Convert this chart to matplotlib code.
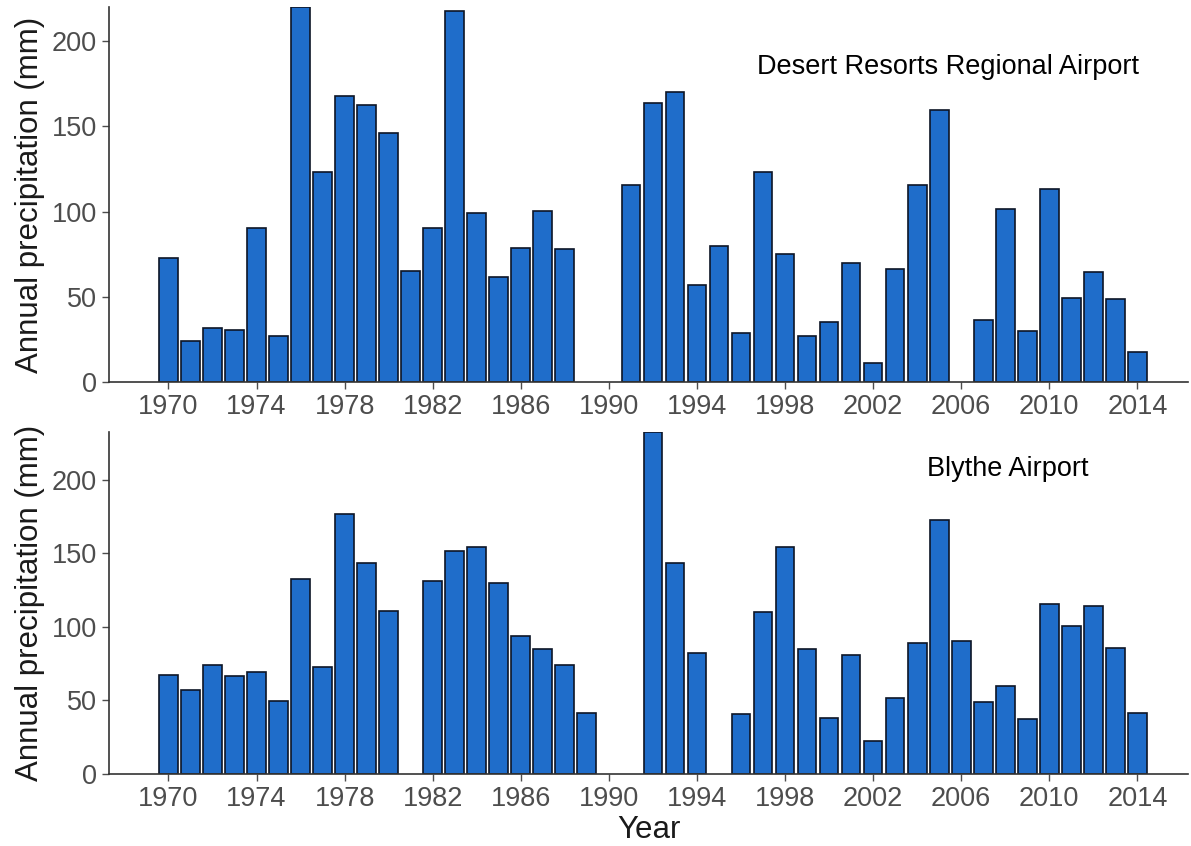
import numpy as np
import matplotlib
matplotlib.use('Agg')
import matplotlib.pyplot as plt

plt.rcParams['font.family'] = ['Liberation Sans', 'DejaVu Sans']

# Annual precipitation (mm), None = no data for that year
years = list(range(1970, 2015))
desert_resorts = [72.5, 24, 31.7, 30.3, 90.5, 27, 220, 123, 167.5, 162.6,
                  146.2, 64.9, 90.5, 217.8, 98.9, 61.4, 78.6, 100.5, 78.2, None,
                  None, 115.3, 163.6, 170.4, 56.9, 79.5, 28.5, 123.2, 74.8, 27.2,
                  35.4, 69.6, 11.1, 66.3, 115.3, 159.7, None, 36.1, 101.2, 30.1,
                  113.5, 49.3, 64.7, 48.9, 17.6]
blythe = [67.6, 57.0, 74.4, 66.3, 69.0, 49.3, 132.8, 72.4, 176.7, 143.2,
          110.9, None, 131.4, 151.6, 154.1, 129.6, 93.9, 85.1, 74.4, 41.6,
          None, None, 232.4, 143.2, 82.4, None, 40.7, 110.2, 154.5, 84.8,
          38.2, 81.0, 22.2, 51.4, 88.9, 172.6, 90.3, 49.1, 59.7, 37.3,
          115.4, 100.9, 114.0, 85.7, 41.2]
station_names = ['Desert Resorts Regional Airport', 'Blythe Airport']
xticks = list(range(1970, 2015, 4))
yticks = [0, 50, 100, 150, 200]

fig = plt.figure(figsize=(11.91, 8.46), dpi=100)
ax_top = fig.add_axes([0.0915, 0.5485, 0.906, 0.4432])
ax_bot = fig.add_axes([0.0915, 0.0851, 0.906, 0.4043])

panels = [(ax_top, desert_resorts, station_names[0], (2005.4, 185)),
          (ax_bot, blythe, station_names[1], (2008.1, 207))]

for ax, vals, name, (tx, ty) in panels:
    x = [yr for yr, v in zip(years, vals) if v is not None]
    h = [v for v in vals if v is not None]
    ax.bar(x, h, width=0.85, color='#1f6dca', edgecolor='#0d1526', linewidth=1.2)
    ax.set_xlim(1967.3, 2016.3)
    ax.set_ylim(0, max(h))
    ax.set_xticks(xticks)
    ax.set_yticks(yticks)
    ax.tick_params(axis='both', labelsize=19.5, colors='#4d4d4d', length=5, width=1)
    ax.spines['top'].set_visible(False)
    ax.spines['right'].set_visible(False)
    for s in ['left', 'bottom']:
        ax.spines[s].set_color('#333333')
        ax.spines[s].set_linewidth(1.2)
    ax.set_ylabel('Annual precipitation (mm)', fontsize=22.5, color='#1a1a1a', labelpad=5)
    ax.text(tx, ty, name, fontsize=19.5, ha='center', va='center', color='black')

ax_bot.set_xlabel('Year', fontsize=22.5, color='#1a1a1a', labelpad=2)

fig.savefig('out.png', dpi=100)
